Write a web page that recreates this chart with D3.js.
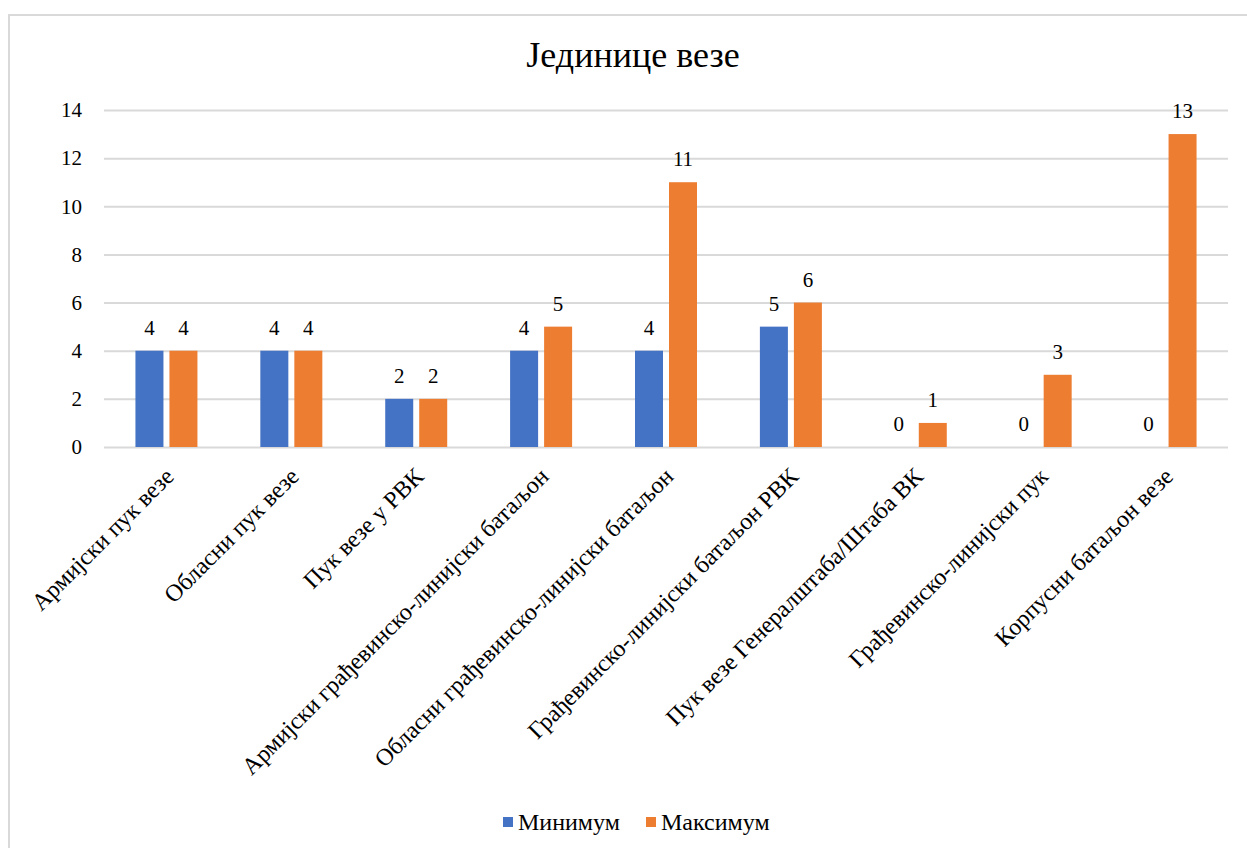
<!DOCTYPE html>
<html><head><meta charset="utf-8">
<script src="https://cdn.jsdelivr.net/npm/d3@7"></script>
<style>body{margin:0;background:#fff}svg{display:block}text{font-family:"Liberation Serif",serif}</style>
</head><body>
<script>
const categories = ["Армијски пук везе","Обласни пук везе","Пук везе у РВК","Армијски грађевинско-линијски батаљон","Обласни грађевинско-линијски батаљон","Грађевинско-линијски батаљон РВК","Пук везе Генералштаба/Штаба  ВК","Грађевинско-линијски пук","Корпусни батаљон везе"];
const minValues = [4,4,2,4,4,5,0,0,0];
const maxValues = [4,4,2,5,11,6,1,3,13];
const seriesNames = ["Минимум","Максимум"];
const colors = ["#4472C4","#ED7D31"];
const yTicks = [0,2,4,6,8,10,12,14];
const title = "Јединице везе";

const W=1247,H=848;
const svg=d3.select("body").append("svg").attr("width",W).attr("height",H);
const font="Liberation Serif";
svg.append("rect").attr("x",9).attr("y",15).attr("width",W+20).attr("height",H+20).attr("fill","#fff").attr("stroke","#d9d9d9").attr("stroke-width",2);

const x0=d3.scaleBand().domain(categories).range([104,1228]).paddingInner(0).paddingOuter(0);
const y=d3.scaleLinear().domain([0,14]).range([447,110]);

const g=svg.append("g");
const yAxis=d3.axisLeft(y).tickValues(yTicks).tickSize(-(1228-104)).tickPadding(22);
const ya=g.append("g").attr("transform","translate(104,0)").call(yAxis)
  .attr("font-family",font).attr("font-size",21);
ya.select(".domain").remove();
ya.selectAll(".tick line").attr("stroke","#d9d9d9").attr("stroke-width",2);
ya.selectAll(".tick text").attr("fill","#000");

const series=[minValues,maxValues];
const bw=28, off=[-17,17];
series.forEach((vals,si)=>{
  g.selectAll(".b"+si).data(categories).enter().append("rect")
    .attr("x",(c)=>x0(c)+x0.bandwidth()/2+off[si]-bw/2)
    .attr("y",(c,i)=>y(vals[i])).attr("width",bw)
    .attr("height",(c,i)=>y(0)-y(vals[i])).attr("fill",colors[si]);
  g.selectAll(".l"+si).data(categories).enter().append("text")
    .attr("x",(c)=>x0(c)+x0.bandwidth()/2+off[si])
    .attr("y",(c,i)=>y(vals[i])-16)
    .attr("text-anchor","middle").attr("font-family",font).attr("font-size",21).attr("fill","#000")
    .text((c,i)=>vals[i]);
});

// x labels
g.selectAll(".xl").data(categories).enter().append("text")
  .attr("transform",c=>`translate(${x0(c)+x0.bandwidth()/2-3},${466}) rotate(-45)`)
  .attr("text-anchor","end").attr("dy","0.7em")
  .attr("font-family",font).attr("font-size",24).attr("fill","#000")
  .text(c=>c);

svg.append("text").attr("x",633).attr("y",67).attr("text-anchor","middle")
  .attr("font-family",font).attr("font-size",36).attr("fill","#000").text(title);

// legend
const legX=[503,646];
seriesNames.forEach((n,i)=>{
  svg.append("rect").attr("x",legX[i]).attr("y",817).attr("width",10).attr("height",10).attr("fill",colors[i]);
  svg.append("text").attr("x",legX[i]+15).attr("y",830).attr("font-family",font).attr("font-size",24).attr("fill","#000").text(n);
});
</script>
</body></html>
